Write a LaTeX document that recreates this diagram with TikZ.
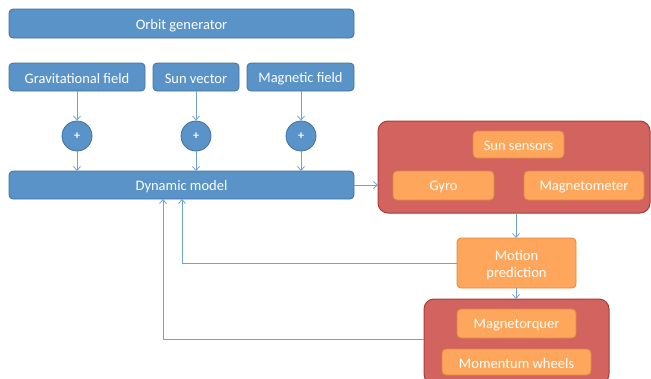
\documentclass[tikz,border=0pt]{standalone}
\usepackage{fontspec}
\setmainfont{Carlito}
\usetikzlibrary{arrows.meta}
\definecolor{bluefill}{HTML}{5A93C8}
\definecolor{blueedge}{HTML}{41719C}
\definecolor{redfill}{HTML}{D3635E}
\definecolor{rededge}{HTML}{A53E3A}
\definecolor{orfill}{HTML}{FEA75C}
\definecolor{oredge}{HTML}{D98A42}
\definecolor{wire}{HTML}{6FA3D6}
\begin{document}
\begin{tikzpicture}[x=1pt,y=-1pt,
  every node/.style={font=\fontsize{14.5}{17}\selectfont, text=white, inner sep=0pt},
  label/.style={yshift=-1.8pt},
  bluebox/.style={draw=blueedge, fill=bluefill, line width=0.8pt, rounded corners=4pt},
  redbox/.style={draw=rededge, fill=redfill, line width=1pt, rounded corners=10pt},
  orbox/.style={draw=oredge, fill=orfill, line width=0.8pt, rounded corners=4pt},
  sumnode/.style={circle, draw=blueedge, fill=bluefill, line width=0.8pt, minimum size=30pt, font=\bfseries\fontsize{12}{13}\selectfont},
  wirearrow/.style={draw=wire, line width=0.8pt, -{Straight Barb[length=4pt,width=7pt]}}]
\useasboundingbox (0,0) rectangle (651,378);

% top row of blue boxes
\draw[bluebox] (9,9) rectangle (354,38) node[pos=0.5, label] (orbit) {Orbit generator};
\draw[bluebox] (9,63) rectangle (145,91) node[pos=0.5, label] (grav) {Gravitational field};
\draw[bluebox] (153,63) rectangle (239,91) node[pos=0.5, label] (sun) {Sun vector};
\draw[bluebox] (247,63) rectangle (354,91) node[pos=0.5, label] (mag) {Magnetic field};
\draw[bluebox] (9,171) rectangle (354,199) node[pos=0.5, label] (dyn) {Dynamic model};

% summing junctions
\node[sumnode] (s1) at (77,136) {+};
\node[sumnode] (s2) at (196,136) {+};
\node[sumnode] (s3) at (301,136) {+};

\coordinate (g1) at (77,91);  \coordinate (d1) at (77,171);
\coordinate (g2) at (196,91); \coordinate (d2) at (196,171);
\coordinate (g3) at (301,91); \coordinate (d3) at (301,171);
\draw[wirearrow] (g1) -- (s1.north);
\draw[wirearrow] (g2) -- (s2.north);
\draw[wirearrow] (g3) -- (s3.north);
\draw[wirearrow] (s1.south) -- (d1);
\draw[wirearrow] (s2.south) -- (d2);
\draw[wirearrow] (s3.south) -- (d3);

% sensor group
\draw[redbox] (378,121) rectangle (650,213);
\draw[orbox] (473,131) rectangle (564,158) node[pos=0.5, label] (sunsens) {Sun sensors};
\draw[orbox] (393,171) rectangle (494,200) node[pos=0.5, label] (gyro) {Gyro};
\draw[orbox] (524,171) rectangle (644,200) node[pos=0.5, label] (magm) {Magnetometer};

% motion prediction
\draw[orbox] (457,238) rectangle (576,288) node[pos=0.5, label, align=center] (motion) {Motion\\prediction};

% actuator group
\draw[redbox] (424,299) rectangle (609,384);
\draw[orbox] (457,309) rectangle (576,338) node[pos=0.5, label] (torq) {Magnetorquer};
\draw[orbox] (442,349) rectangle (591,375) node[pos=0.5, label] (wheels) {Momentum wheels};

% connectors
\coordinate (dynR) at (354,185);
\coordinate (sensL) at (378,185);
\coordinate (sensB) at (516,213);
\coordinate (motT) at (516,238);
\coordinate (motB) at (516,288);
\coordinate (actT) at (516,299);
\coordinate (motL) at (457,263);
\coordinate (actL) at (424,339);
\coordinate (fb1) at (182,199);
\coordinate (fb2) at (163,199);
\draw[wirearrow] (dynR) -- (sensL);
\draw[wirearrow] (sensB) -- (motT);
\draw[wirearrow] (motB) -- (actT);
\draw[wirearrow] (motL) -| (fb1);
\draw[wirearrow] (actL) -| (fb2);
\end{tikzpicture}
\end{document}
